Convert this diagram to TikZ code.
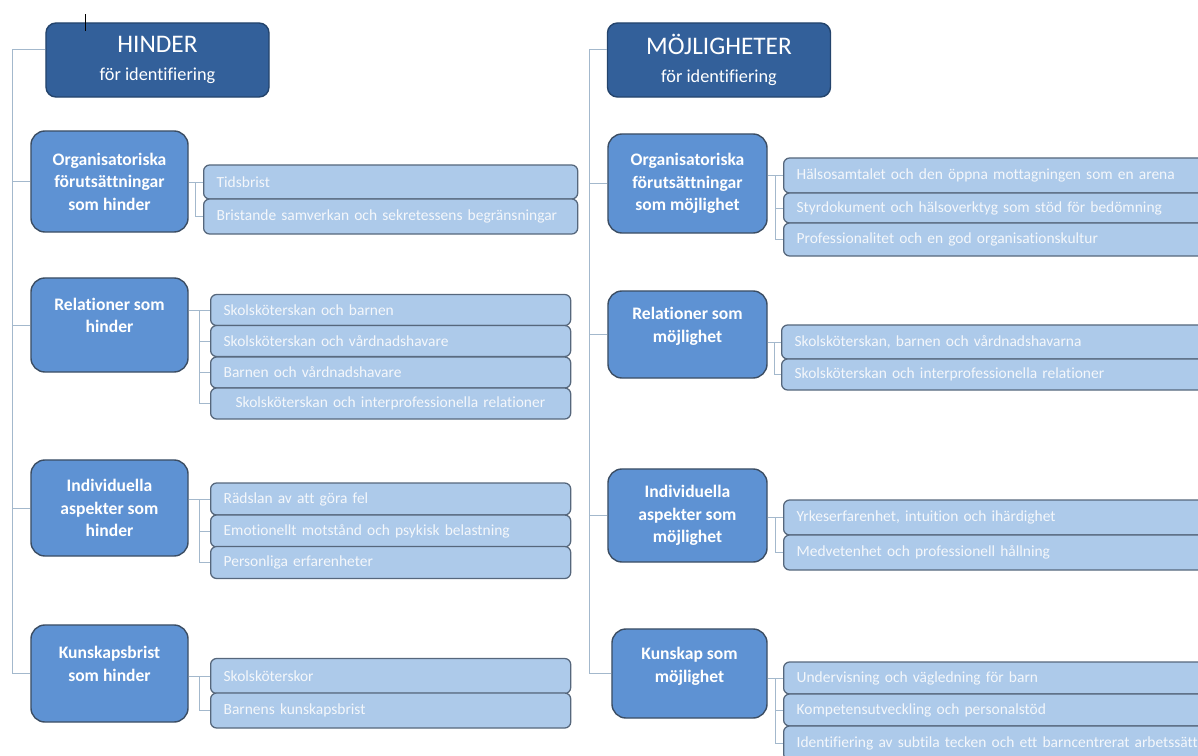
\documentclass[tikz,border=0pt]{standalone}
\usepackage{fontspec}
\setmainfont[Ligatures = NoCommon]{Carlito}
\usetikzlibrary{positioning, calc}

\definecolor{headfill}{HTML}{33609A}
\definecolor{headline}{HTML}{24446C}
\definecolor{catfill}{HTML}{5E92D3}
\definecolor{catline}{HTML}{3B4D63}
\definecolor{subfill}{HTML}{ADCAEA}
\definecolor{subline}{HTML}{56677C}
\definecolor{subtext}{HTML}{F4F7FB}
\definecolor{linkc}{HTML}{A3B8CC}

\tikzset{
  head/.style = {draw = headline, fill = headfill, line width = 1pt, rounded corners = .25cm,
                 text = white, align = center, minimum width = 5.575cm, minimum height = 1.85cm},
  cat/.style  = {draw = catline, fill = catfill, line width = 1pt, rounded corners = .35cm,
                 text = white, align = center, minimum width = 3.925cm,
                 font = \bfseries\fontsize{12.5}{16}\selectfont},
  sub/.style  = {draw = subline, fill = subfill, line width = .9pt, rounded corners = .15cm,
                 text = subtext, anchor = west, align = left, inner xsep = .325cm,
                 text width = #1, font = \fontsize{11}{13}\selectfont},
  sub/.default = 8.35cm,
  link/.style = {draw = linkc, line width = .7pt}
}

\begin{document}
\begin{tikzpicture}[x = .025cm, y = -.025cm]
    \useasboundingbox (0,0) rectangle (1198,756);
    \clip (0,0) rectangle (1198,756);

    % hinder
    \node [head] (hL) at (157.5,60) {{\fontsize{18}{22}\selectfont HINDER}\\[8pt]{\fontsize{13}{16}\selectfont för identifiering}};
    \node [cat, minimum height = 2.525cm] (oL) at (109.5,181.5) {Organisatoriska\\förutsättningar\\som hinder};
    \node [cat, minimum height = 2.35cm, text depth = 14pt] (rL) at (109.5,325) {Relationer som\\hinder};
    \node [cat, minimum height = 2.4cm] (iL) at (109.5,508) {Individuella\\aspekter som\\hinder};
    \node [cat, minimum height = 2.425cm, text depth = 14pt] (kL) at (109.5,673.5) {Kunskapsbrist\\som hinder};

    \node [sub = 8.7cm, minimum height = .85cm] (oL1) at (203,182) {Tidsbrist};
    \node [sub = 8.7cm, minimum height = .875cm] (oL2) at (203,216.5) {Bristande samverkan och sekretessens begränsningar};
    \node [sub, minimum height = .775cm] (rL1) at (210,310) {Skolsköterskan och barnen};
    \node [sub, minimum height = .775cm] (rL2) at (210,341) {Skolsköterskan och vårdnadshavare};
    \node [sub, minimum height = .775cm] (rL3) at (210,372.5) {Barnen och vårdnadshavare};
    \node [sub, minimum height = .775cm] (rL4) at (210,403.5) {\hspace{.3cm}Skolsköterskan och interprofessionella relationer};
    \node [sub, minimum height = .8cm] (iL1) at (210,499) {Rädslan av att göra fel};
    \node [sub, minimum height = .8cm] (iL2) at (210,531) {Emotionellt motstånd och psykisk belastning};
    \node [sub, minimum height = .8cm] (iL3) at (210,562.5) {Personliga erfarenheter};
    \node [sub, minimum height = .875cm] (kL1) at (210,676) {Skolsköterskor};
    \node [sub, minimum height = .875cm] (kL2) at (210,710.5) {Barnens kunskapsbrist};

    % möjligheter
    \node [head] (hR) at (719,60) {{\fontsize{18}{22}\selectfont MÖJLIGHETER}\\[8pt]{\fontsize{13}{16}\selectfont för identifiering}};
    \node [cat, minimum width = 3.975cm, minimum height = 2.475cm] (oR) at (687.5,183.5) {Organisatoriska\\förutsättningar\\som möjlighet};
    \node [cat, minimum width = 3.975cm, minimum height = 2.175cm, text depth = 14pt] (rR) at (687.5,334.5) {Relationer som\\möjlighet};
    \node [cat, minimum width = 3.975cm, minimum height = 2.325cm] (iR) at (687.5,515.5) {Individuella\\aspekter som\\möjlighet};
    \node [cat, minimum width = 3.875cm, minimum height = 2.225cm, text depth = 12pt] (kR) at (689.5,673.5) {Kunskap som\\möjlighet};

    \node [sub = 10.85cm, minimum height = .875cm] (oR1) at (783,175.5) {Hälsosamtalet och den öppna mottagningen som en arena};
    \node [sub = 10.85cm, minimum height = .75cm] (oR2) at (783,208) {Styrdokument och hälsoverktyg som stöd för bedömning};
    \node [sub = 10.85cm, minimum height = .825cm] (oR3) at (783,239.5) {Professionalitet och en god organisationskultur};
    \node [sub = 10.85cm, minimum height = .85cm] (rR1) at (781,342) {Skolsköterskan, barnen och vårdnadshavarna};
    \node [sub = 10.85cm, minimum height = .775cm] (rR2) at (781,374.5) {Skolsköterskan och interprofessionella relationer};
    \node [sub = 10.85cm, minimum height = .875cm] (iR1) at (783,517.5) {Yrkeserfarenhet, intuition och ihärdighet};
    \node [sub = 10.85cm, minimum height = .875cm] (iR2) at (783,552.5) {Medvetenhet och professionell hållning};
    \node [sub = 10.85cm, minimum height = .8cm] (kR1) at (783,678) {Undervisning och vägledning för barn};
    \node [sub = 10.85cm, minimum height = .8cm] (kR2) at (783,710) {Kompetensutveckling och personalstöd};
    \node [sub = 10.85cm, minimum height = .85cm] (kR3) at (783,743) {Identifiering av subtila tecken och ett barncentrerat arbetssätt};

    % connectors
    \coordinate (tL) at (12,49);
    \coordinate (tR) at (589,49);
    \draw [link] (tL) -- (tL -| hL.west);
    \draw [link] (tR) -- (tR -| hR.west);
    \foreach \c in {oL, rL, iL, kL} \draw [link] (tL) |- (\c.west);
    \foreach \c in {oR, rR, iR, kR} \draw [link] (tR) |- (\c.west);
    \foreach \c/\n in {oL/2, rL/4, iL/3, kL/2, oR/3, rR/2, iR/2, kR/3} {
      \draw [link] (\c.east |- \c1.west) -- (\c1.west);
      \foreach \k in {2,...,\n}
        \draw [link] ($(\c.east |- \c1.west)!.5!(\c1.west)$) |- (\c\k.west);
    }

    \draw [line width = .6pt] (85,14) -- (85,31);
\end{tikzpicture}
\end{document}
